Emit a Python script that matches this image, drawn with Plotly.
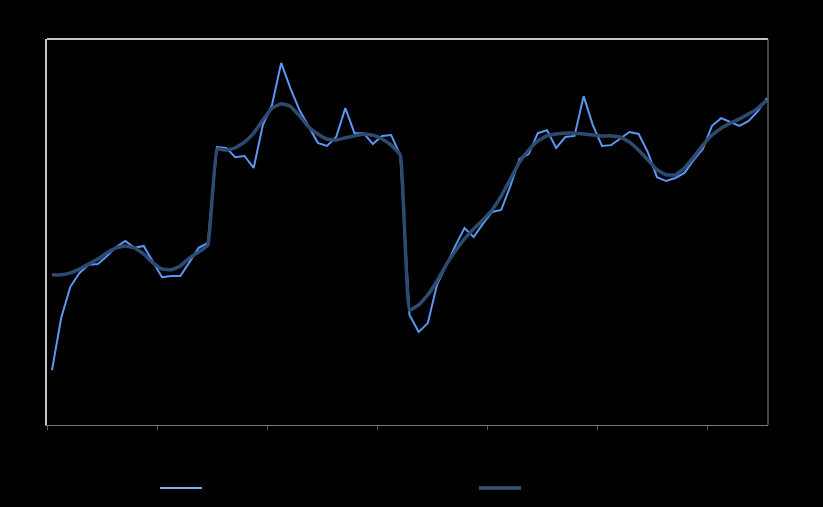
import plotly.graph_objects as go

# Monthly index positions (79 observations)
periods = list(range(79))

# Raw monthly series (arbitrary 0-100 scale)
raw_px = [370, 318, 287, 273, 265, 264, 256, 247, 241, 248, 246, 262, 277, 276, 276, 262,
          248, 243, 147, 148, 157, 156, 168, 125, 105, 63, 88, 110, 127, 143, 146, 137,
          108, 133, 133, 144, 136, 135, 155, 315, 332, 323, 285, 265, 246, 228, 237, 224,
          212, 210, 186, 159, 154, 133, 130, 148, 137, 136, 96, 125, 146, 145, 139, 132,
          134, 152, 177, 181, 178, 173, 160, 149, 126, 118, 122, 126, 121, 111, 98]
trend_px = [275, 275, 273, 269, 264, 259, 253, 248, 246, 248, 254, 263, 269, 270, 266, 258,
            252, 245, 149, 150, 148, 142, 133, 120, 108, 104, 106, 116, 127, 134, 139, 140,
            138, 136, 134, 135, 139, 145, 155, 310, 305, 295, 281, 265, 251, 239, 229, 220,
            210, 196, 179, 162, 150, 141, 136, 134, 133, 133, 134, 135, 136, 136, 137, 142,
            150, 160, 170, 175, 175, 168, 157, 145, 135, 128, 123, 119, 114, 108, 100]

raw_values = [round((425 - p) / 3.86, 1) for p in raw_px]
trend_values = [round((425 - p) / 3.86, 1) for p in trend_px]

tick_positions = [-0.545 + 12 * k for k in range(7)]
tick_labels = ["", "", "", "", "", "", ""]
series_names = ["Monthly value", "Smoothed trend"]

LIGHT = "#5d97f4"
DARK = "#2d4b70"
TXT = "#050505"

fig = go.Figure()
fig.add_trace(go.Scatter(x=periods, y=raw_values, mode="lines", name=series_names[0],
                         line=dict(color=LIGHT, width=2), showlegend=False))
fig.add_trace(go.Scatter(x=periods, y=trend_values, mode="lines", name=series_names[1],
                         line=dict(color=DARK, width=3.5, shape="spline", smoothing=0.3),
                         showlegend=False))

fig.update_layout(
    width=823, height=507,
    paper_bgcolor="#000000", plot_bgcolor="#000000",
    margin=dict(l=47, r=55, t=39, b=82),
    font=dict(family="Liberation Sans, Arial", color=TXT, size=11),
    xaxis=dict(range=[-0.545, 78.11], showgrid=False, zeroline=False,
               showline=True, linecolor="#7a7a7a", linewidth=1,
               tickmode="array", tickvals=tick_positions, ticktext=tick_labels,
               ticks="outside", ticklen=4, tickcolor="#5a5a5a"),
    yaxis=dict(range=[0, 100], showgrid=False, zeroline=False,
               showline=True, linecolor="#c4c4c4", linewidth=2,
               showticklabels=True, tickvals=[0, 100], ticks="",
               tickfont=dict(color=TXT)),
    shapes=[
        dict(type="line", xref="paper", yref="paper", x0=0, x1=1, y0=1, y1=1,
             line=dict(color="#c4c4c4", width=2)),
        dict(type="line", xref="paper", yref="paper", x0=1, x1=1, y0=0, y1=1,
             line=dict(color="#8a8a8a", width=1)),
        # manual legend
        dict(type="line", xref="paper", yref="paper",
             x0=(160 - 47) / 721, x1=(202 - 47) / 721,
             y0=-(488 - 425) / 386, y1=-(488 - 425) / 386,
             line=dict(color="#86aaee", width=2)),
        dict(type="line", xref="paper", yref="paper",
             x0=(479 - 47) / 721, x1=(521 - 47) / 721,
             y0=-(488 - 425) / 386, y1=-(488 - 425) / 386,
             line=dict(color="#3a5578", width=3.5)),
    ],
    annotations=[
        dict(xref="paper", yref="paper", x=(207 - 47) / 721, y=-(488 - 425) / 386,
             text=series_names[0], showarrow=False, xanchor="left", yanchor="middle",
             font=dict(color=TXT, size=11)),
        dict(xref="paper", yref="paper", x=(526 - 47) / 721, y=-(488 - 425) / 386,
             text=series_names[1], showarrow=False, xanchor="left", yanchor="middle",
             font=dict(color=TXT, size=11)),
    ],
)

fig.write_html(
    "out.html",
    config={"displayModeBar": False},
    post_script="document.body.style.margin='0';document.body.style.background='#000';"
                "document.documentElement.style.background='#000';",
)
